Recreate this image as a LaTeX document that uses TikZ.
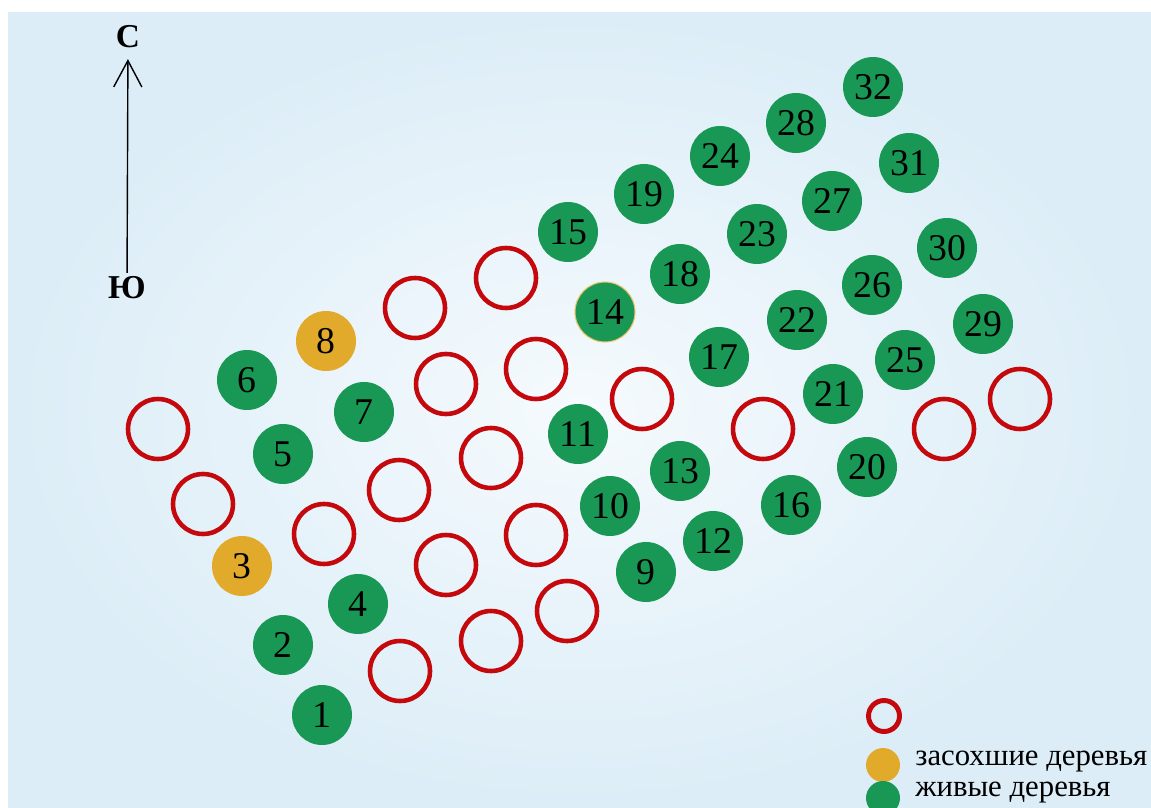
\documentclass[tikz,border=0pt]{standalone}
\usepackage{fontspec}
\setmainfont{Liberation Serif}
\usepackage{tikz}
\usetikzlibrary{arrows.meta}

\definecolor{livegreen}{RGB}{24,152,84}
\definecolor{drygold}{RGB}{226,170,42}
\definecolor{holered}{RGB}{196,8,12}
\definecolor{skyedge}{RGB}{220,237,247}
\definecolor{skymid}{RGB}{245,250,253}

\begin{document}
\begin{tikzpicture}[
      x=0.02cm, y=-0.02cm,
      >={Straight Barb[length=15pt, width=16pt]},
      tree/.style={circle, inner sep=0pt, minimum size=1.2cm,
                   font=\fontsize{21.5}{21.5}\selectfont},
      live/.style={tree, fill=livegreen},
      dry/.style={tree, fill=drygold},
      hole/.style={circle, inner sep=0pt, minimum size=1.2cm,
                   draw=holered, line width=2.6pt},
      compass/.style={font=\fontsize{19}{19}\selectfont\bfseries, inner sep=1pt},
      legend/.style={anchor=west, inner sep=0pt, font=\fontsize{17.5}{17.5}\selectfont}
    ]
      % background
      \useasboundingbox (0,0) rectangle (1151,807);
      \fill[white] (0,0) rectangle (1151,807);
      \shade[inner color=skymid, outer color=skyedge] (8,13) rectangle (1151,807);

      % north arrow
      \node[compass] (north) at (128,37)  {С};
      \node[compass] (south) at (127,288) {Ю};
      \draw[->, line width=0.8pt, shorten <=1pt, shorten >=5pt] (south) -- (north);

      % living and dried trees
      \node[live] (t1)  at (322,715) {1};
      \node[live] (t2)  at (283,645) {2};
      \node[dry]  (t3)  at (242,566) {3};
      \node[live] (t4)  at (358,604) {4};
      \node[live] (t5)  at (283,454) {5};
      \node[live] (t6)  at (247,380) {6};
      \node[live] (t7)  at (364,412) {7};
      \node[dry]  (t8)  at (326,341) {8};
      \node[live] (t9)  at (646,572) {9};
      \node[live] (t10) at (610,506) {10};
      \node[live] (t11) at (578,434) {11};
      \node[live] (t12) at (713,541) {12};
      \node[live] (t13) at (680,471) {13};
      \node[live, draw=drygold!70, line width=0.6pt] (t14) at (605,312) {14};
      \node[live] (t15) at (568,232) {15};
      \node[live] (t16) at (791,505) {16};
      \node[live] (t17) at (719,357) {17};
      \node[live] (t18) at (680,274) {18};
      \node[live] (t19) at (644,194) {19};
      \node[live] (t20) at (867,467) {20};
      \node[live] (t21) at (833,394) {21};
      \node[live] (t22) at (797,320) {22};
      \node[live] (t23) at (757,234) {23};
      \node[live] (t24) at (720,156) {24};
      \node[live] (t25) at (905,360) {25};
      \node[live] (t26) at (872,285) {26};
      \node[live] (t27) at (832,201) {27};
      \node[live] (t28) at (796,123) {28};
      \node[live] (t29) at (983,324) {29};
      \node[live] (t30) at (947,248) {30};
      \node[live] (t31) at (909,163) {31};
      \node[live] (t32) at (873,87)  {32};

      % empty places
      \node[hole] (gap1)  at (158,429) {};
      \node[hole] (gap2)  at (203,504) {};
      \node[hole] (gap3)  at (324,534) {};
      \node[hole] (gap4)  at (399,490) {};
      \node[hole] (gap5)  at (415,308) {};
      \node[hole] (gap6)  at (446,384) {};
      \node[hole] (gap7)  at (491,458) {};
      \node[hole] (gap8)  at (506,278) {};
      \node[hole] (gap9)  at (536,369) {};
      \node[hole] (gap10) at (536,535) {};
      \node[hole] (gap11) at (446,565) {};
      \node[hole] (gap12) at (491,641) {};
      \node[hole] (gap13) at (400,671) {};
      \node[hole] (gap14) at (567,611) {};
      \node[hole] (gap15) at (642,399) {};
      \node[hole] (gap16) at (763,429) {};
      \node[hole] (gap17) at (944,429) {};
      \node[hole] (gap18) at (1020,399) {};

      % legend
      \node[hole, minimum size=0.62cm, line width=2.8pt] (keyhole) at (884,716) {};
      \node[dry, minimum size=0.68cm]  (keydry)  at (883,765) {};
      \node[live, minimum size=0.68cm] (keylive) at (883,798) {};
      \node[legend] (keydrytxt)  at (915,762) {засохшие деревья};
      \node[legend] (keylivetxt) at (915,793) {живые деревья};
    \end{tikzpicture}
\end{document}
